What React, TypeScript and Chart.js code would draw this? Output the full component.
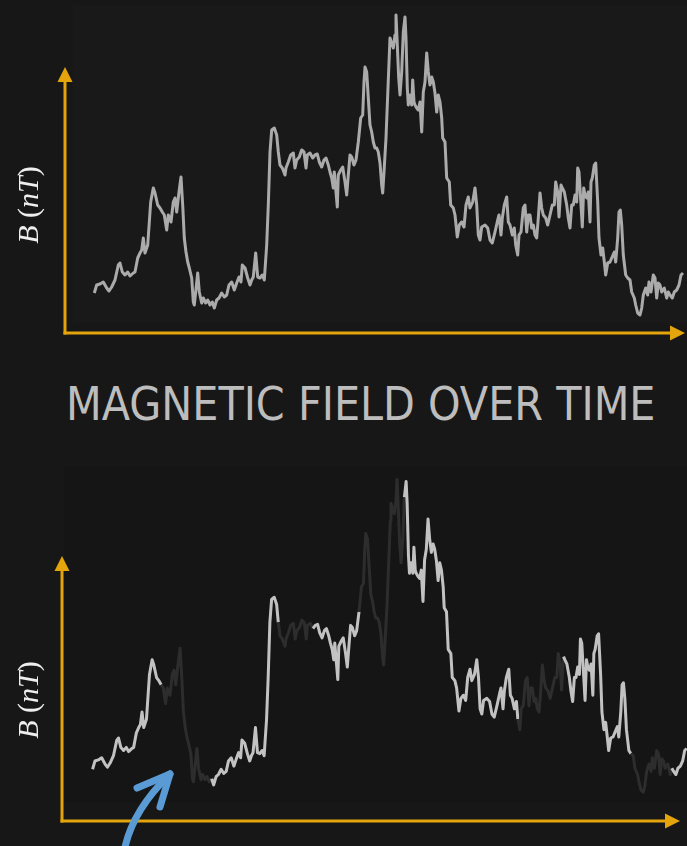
import React, { useEffect, useRef } from 'react';
import { Chart, registerables } from 'chart.js';

Chart.register(...registerables);

// ---- data (time in arbitrary minutes, field in nT) ----
const timeMin = [
  29.3, 31.7, 35, 38.3, 41.7, 44, 46.7, 50, 53.3, 55, 57.3, 60, 62.7, 65, 68.3, 70, 72.7, 75, 76.7, 78.3,
  80, 82.7, 85.7, 88.3, 90, 92.7, 95, 97.3, 99.3, 101.7, 103.3, 106, 108.3, 110, 111.7, 114, 116, 117.7, 119.3, 121,
  122.7, 124.3, 126.7, 128.3, 129.3, 130.7, 132.7, 134.3, 136.7, 138.3, 140.7, 142.7, 145, 147.3, 149.3, 151.7, 154, 156.7, 159.3, 161.7,
  164, 166.7, 169.3, 171.7, 174, 176, 177.3, 180, 182.7, 185, 186.7, 188.3, 190.7, 192.7, 195, 197.3, 199.3, 201.7, 203.3, 205,
  206.7, 209.3, 211.7, 213.3, 215, 217.3, 220, 221, 223.3, 225.7, 228.3, 230, 231.7, 234.3, 236.7, 239, 241, 242.3, 245, 247.7,
  250, 252.3, 254.3, 256.7, 259, 261, 263.3, 265, 266.7, 268.3, 269.3, 271, 272.3, 273.3, 275.7, 277.7, 280, 281.7, 283.3, 285,
  286.7, 289, 291, 293.3, 295.7, 297.7, 299, 300, 301.7, 303.3, 305, 306.7, 308.3, 310, 311.7, 313.3, 315, 316.7, 317.7, 319,
  321, 322.3, 324.3, 325, 326.7, 328.3, 330, 331, 332.3, 333.7, 335, 336.7, 338.3, 340, 341, 342.3, 343.3, 345, 346.7, 347.7,
  349, 350, 351.7, 353.3, 355, 356.7, 358.3, 360, 361.7, 363.3, 365, 366.7, 368.3, 370, 371.7, 373.3, 375, 376.7, 377.7, 380,
  381.7, 384.3, 385.7, 388.3, 390, 392.3, 394.3, 396.7, 399, 401, 403.3, 405, 407.7, 410, 411.7, 413.3, 415, 416.7, 420, 422.7,
  425, 427.3, 430, 432.7, 434, 436, 437.3, 439.3, 441.7, 443.3, 445, 447.3, 449.3, 450.7, 452.7, 454, 456, 458.3, 460, 461.7,
  463.3, 465, 466.7, 468.3, 470, 471.7, 473.3, 475, 476.7, 478.3, 480.7, 482.7, 485, 487.3, 489.3, 490.7, 492.7, 494, 496, 497.3,
  499.3, 501.7, 503.3, 505, 506.7, 508.3, 510, 511.7, 512.7, 514, 516, 517.3, 518.7, 520, 521.7, 523.3, 525, 526, 527.3, 529.3,
  530.7, 532.7, 534, 536, 537.7, 539.3, 540.7, 542.7, 545, 546.7, 549.3, 550.7, 552.7, 554, 555.3, 556.7, 558.3, 560.7, 562.7, 565,
  566.7, 569.3, 570.7, 572.7, 575, 576.7, 578.3, 580.7, 582.7, 584, 586, 588.3, 590, 591.7, 593.3, 595, 596.7, 599.3, 601.7, 603.3,
  605, 607.3, 609.3, 611.7, 614, 616, 618,
];

const fieldNT = [
  4.0, 4.8, 4.9, 5.1, 4.5, 4.2, 4.6, 5.3, 6.8, 7.0, 6.1, 5.8, 6.1, 5.7, 6.0, 6.1, 7.5, 8.0, 8.3, 9.5,
  8.0, 8.8, 13.1, 14.5, 14.0, 12.8, 12.5, 12.1, 11.8, 10.3, 11.8, 11.1, 13.1, 13.5, 12.1, 14.1, 15.6, 12.8, 9.5, 8.1,
  7.1, 6.5, 5.5, 3.1, 2.8, 4.1, 6.0, 4.1, 3.0, 3.5, 3.0, 3.3, 2.8, 3.1, 2.5, 3.3, 3.5, 4.0, 3.6, 3.8,
  4.8, 5.1, 4.3, 5.0, 5.6, 5.1, 6.8, 6.5, 5.5, 4.8, 5.3, 5.6, 8.0, 5.6, 5.5, 5.8, 5.3, 8.8, 12.8, 18.1,
  20.3, 20.5, 19.8, 18.1, 16.8, 16.5, 15.8, 16.5, 17.1, 17.8, 18.0, 16.5, 17.3, 17.6, 18.3, 18.1, 16.5, 17.8, 18.0, 17.5,
  17.8, 17.9, 17.1, 16.6, 17.3, 17.5, 16.8, 16.1, 15.5, 14.5, 16.1, 14.1, 12.6, 15.8, 16.3, 16.6, 15.1, 13.8, 15.8, 17.8,
  17.6, 16.8, 17.3, 19.1, 21.5, 21.8, 25.1, 26.6, 26.1, 23.5, 20.8, 20.1, 19.1, 18.5, 18.5, 18.1, 17.0, 14.8, 14.0, 16.1,
  19.5, 22.8, 27.8, 29.5, 29.0, 28.5, 29.8, 31.8, 28.8, 25.5, 23.8, 26.1, 30.1, 31.6, 29.5, 24.5, 22.8, 23.8, 22.8, 25.3,
  23.1, 22.8, 22.5, 22.3, 23.1, 20.1, 24.1, 25.1, 28.0, 26.1, 24.8, 25.6, 25.1, 24.0, 22.1, 23.8, 23.1, 21.5, 19.5, 19.1,
  15.5, 15.1, 12.8, 12.5, 11.8, 9.6, 10.8, 11.1, 10.6, 12.8, 13.6, 12.5, 13.1, 14.5, 12.8, 9.8, 9.3, 10.6, 10.8, 10.5,
  9.3, 9.0, 10.1, 11.3, 11.8, 9.8, 11.5, 12.8, 13.6, 11.1, 10.8, 9.8, 10.5, 8.8, 7.8, 9.8, 10.1, 12.5, 12.8, 10.1,
  11.8, 11.8, 10.5, 10.8, 9.8, 9.5, 11.5, 14.0, 12.5, 11.8, 11.5, 10.8, 11.8, 12.8, 12.8, 15.1, 14.1, 11.6, 14.8, 14.5,
  14.1, 12.8, 11.5, 10.5, 12.8, 12.8, 13.8, 13.1, 16.5, 16.1, 12.8, 10.6, 14.5, 13.8, 13.5, 14.1, 11.1, 15.1, 15.5, 16.8,
  17.0, 13.1, 9.5, 7.8, 8.5, 7.1, 5.8, 7.0, 7.1, 7.5, 8.1, 7.1, 9.5, 12.1, 12.3, 10.8, 7.8, 5.8, 5.5, 5.3,
  4.1, 3.5, 2.8, 2.0, 1.8, 2.5, 3.8, 4.5, 3.8, 5.1, 4.1, 5.8, 5.5, 3.5, 5.0, 4.8, 4.1, 4.5, 3.5, 4.1,
  3.8, 3.5, 4.1, 4.3, 4.8, 5.8, 6.0,
];

// time windows emphasised in the lower chart
const highlightStart = [29, 148, 248, 338, 496, 603];
const highlightEnd = [97, 214, 293, 451, 562, 618];

const chartTitle = 'MAGNETIC FIELD OVER TIME';
const yLabelParts = [
  { text: 'B', italic: true },
  { text: ' (', italic: false },
  { text: 'nT', italic: true },
  { text: ')', italic: false },
];

const PAGE_BG = '#171717';
const AXIS_COLOR = '#e3a50b';

function isHighlighted(t: number) {
  for (let i = 0; i < highlightStart.length; i++) {
    if (t >= highlightStart[i] && t <= highlightEnd[i]) return true;
  }
  return false;
}

const decorPlugin = {
  id: 'decor',
  beforeDraw(chart: any, _args: any, opts: any) {
    const { ctx } = chart;
    if (opts.plotRect) {
      ctx.save();
      ctx.fillStyle = opts.plotFill;
      const r = opts.plotRect;
      ctx.fillRect(r[0], r[1], r[2], r[3]);
      ctx.restore();
    }
  },
  afterDraw(chart: any, _args: any, opts: any) {
    const { ctx, chartArea } = chart;
    const ox = chartArea.left + (opts.dx || 0);
    const oy = chartArea.bottom + (opts.dy || 0);
    const head = 15;
    ctx.save();
    ctx.strokeStyle = AXIS_COLOR;
    ctx.fillStyle = AXIS_COLOR;
    ctx.lineWidth = 3;
    ctx.lineCap = 'butt';
    // y axis
    ctx.beginPath();
    ctx.moveTo(ox, oy + 1.5);
    ctx.lineTo(ox, opts.yTip + head - 1);
    ctx.stroke();
    ctx.beginPath();
    ctx.moveTo(ox, opts.yTip);
    ctx.lineTo(ox - 7.5, opts.yTip + head);
    ctx.lineTo(ox + 7.5, opts.yTip + head);
    ctx.closePath();
    ctx.fill();
    // x axis
    ctx.beginPath();
    ctx.moveTo(ox - 1.5, oy);
    ctx.lineTo(opts.xTip - head + 1, oy);
    ctx.stroke();
    ctx.beginPath();
    ctx.moveTo(opts.xTip, oy);
    ctx.lineTo(opts.xTip - head, oy - 7.5);
    ctx.lineTo(opts.xTip - head, oy + 7.5);
    ctx.closePath();
    ctx.fill();
    ctx.restore();

    // y label (rotated)
    ctx.save();
    ctx.translate(opts.labelX, opts.labelY);
    ctx.rotate(-Math.PI / 2);
    ctx.fillStyle = '#eeeeee';
    ctx.textBaseline = 'alphabetic';
    const fontFor = (it: boolean) => `${it ? 'italic ' : ''}30px "Liberation Serif", "DejaVu Serif", serif`;
    let total = 0;
    const widths = yLabelParts.map((p) => {
      ctx.font = fontFor(p.italic);
      const w = ctx.measureText(p.text).width;
      total += w;
      return w;
    });
    let x = -total / 2;
    yLabelParts.forEach((p, i) => {
      ctx.font = fontFor(p.italic);
      ctx.fillText(p.text, x, 0);
      x += widths[i];
    });
    ctx.restore();

    // annotation arrow
    if (opts.pointer) {
      const a = opts.pointer;
      ctx.save();
      ctx.strokeStyle = '#5b9bd5';
      ctx.lineWidth = 7;
      ctx.lineCap = 'round';
      ctx.lineJoin = 'round';
      ctx.beginPath();
      ctx.moveTo(a.from[0], a.from[1]);
      ctx.quadraticCurveTo(a.ctrl[0], a.ctrl[1], a.tip[0], a.tip[1]);
      ctx.stroke();
      ctx.beginPath();
      ctx.moveTo(a.barbA[0], a.barbA[1]);
      ctx.lineTo(a.tip[0], a.tip[1]);
      ctx.lineTo(a.barbB[0], a.barbB[1]);
      ctx.stroke();
      ctx.restore();
    }
  },
};

function buildPoints() {
  return timeMin.map((t, i) => ({ x: t, y: fieldNT[i] }));
}

export default function App() {
  const topRef = useRef<HTMLCanvasElement>(null);
  const botRef = useRef<HTMLCanvasElement>(null);

  useEffect(() => {
    document.body.style.margin = '0';
    document.body.style.background = PAGE_BG;

    const top = new Chart(topRef.current as HTMLCanvasElement, {
      type: 'line',
      data: {
        datasets: [
          {
            data: buildPoints(),
            borderColor: '#ababab',
            borderWidth: 3,
            pointRadius: 0,
            tension: 0,
            borderJoinStyle: 'round',
          },
        ],
      },
      options: {
        animation: false,
        responsive: false,
        devicePixelRatio: 1,
        layout: { padding: { left: 65, right: 2, top: 10, bottom: 12 } },
        scales: {
          x: { type: 'linear', min: 0, max: 620, display: false },
          y: { type: 'linear', min: 0, max: 32.3, display: false },
        },
        plugins: {
          legend: { display: false },
          tooltip: { enabled: false },
          decor: {
            plotRect: [73, 5, 614, 318],
            plotFill: '#191919',
            dx: 0,
            dy: 0,
            yTip: 67,
            xTip: 685,
            labelX: 38,
            labelY: 205,
          },
        } as any,
      },
      plugins: [decorPlugin],
    });

    const bot = new Chart(botRef.current as HTMLCanvasElement, {
      type: 'line',
      data: {
        datasets: [
          {
            data: buildPoints(),
            borderColor: '#c2c2c2',
            borderWidth: 3,
            pointRadius: 0,
            tension: 0,
            borderJoinStyle: 'round',
            segment: {
              borderColor: (ctx: any) =>
                isHighlighted((ctx.p0.parsed.x + ctx.p1.parsed.x) / 2) ? '#c2c2c2' : '#2d2d2d',
            },
          },
        ],
      },
      options: {
        animation: false,
        responsive: false,
        devicePixelRatio: 1,
        layout: { padding: { left: 63, right: 0, top: 20, bottom: 35 } },
        scales: {
          x: { type: 'linear', min: 0, max: 618.3, display: false },
          y: { type: 'linear', min: 0, max: 32.7, display: false },
        },
        plugins: {
          legend: { display: false },
          tooltip: { enabled: false },
          decor: {
            plotRect: [64, 17, 623, 336],
            plotFill: '#151515',
            dx: -1,
            dy: 10,
            yTip: 106,
            xTip: 680,
            labelX: 38,
            labelY: 250,
            pointer: {
              from: [124, 402],
              ctrl: [131, 362],
              tip: [170, 324],
              barbA: [137, 338],
              barbB: [160, 357],
            },
          },
        } as any,
      },
      plugins: [decorPlugin],
    });

    return () => {
      top.destroy();
      bot.destroy();
    };
  }, []);

  return (
    <div style={{ position: 'relative', width: 687, height: 846, background: PAGE_BG, overflow: 'hidden' }}>
      <canvas ref={topRef} width={687} height={345} style={{ position: 'absolute', left: 0, top: 0 }} />
      <div
        style={{
          position: 'absolute',
          left: 66,
          top: 381,
          fontFamily: "'DejaVu Sans Condensed', 'DejaVu Sans', sans-serif",
          fontStretch: 'condensed',
          fontSize: 46,
          lineHeight: '46px',
          color: '#bdbdbd',
          whiteSpace: 'nowrap',
        }}
      >
        {chartTitle}
      </div>
      <canvas ref={botRef} width={687} height={396} style={{ position: 'absolute', left: 0, top: 450 }} />
    </div>
  );
}
